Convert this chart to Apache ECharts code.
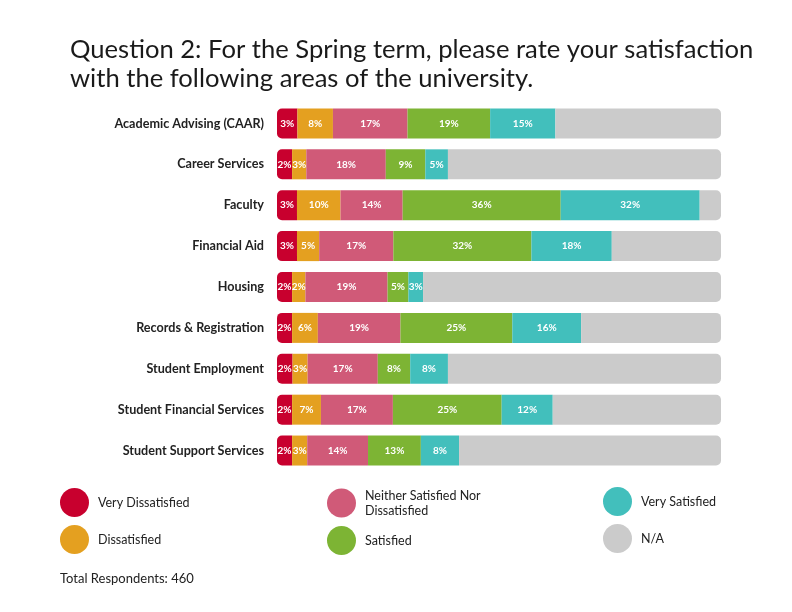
<!DOCTYPE html>
<html>
<head>
<meta charset="utf-8">
<script src="https://cdn.jsdelivr.net/npm/echarts@6/dist/echarts.min.js"></script>
<style>html,body{margin:0;padding:0;background:#fff}#c{width:792px;height:612px}</style>
</head>
<body>
<div id="c"></div>
<script>
const categories = ["Academic Advising (CAAR)","Career Services","Faculty","Financial Aid","Housing","Records & Registration","Student Employment","Student Financial Services","Student Support Services"];
// segment lengths as drawn (share of the bar, %)
const veryDissatisfied = [4.6,3.4,4.5,4.5,3.4,3.4,3.5,3.4,3.4];
const dissatisfied     = [8.0,3.2,9.8,5.0,3.0,5.8,3.4,6.5,3.4];
const neither          = [16.8,17.9,14.0,16.7,18.5,18.6,15.8,16.2,13.7];
const satisfied        = [18.6,8.9,35.6,31.1,4.7,25.2,7.3,24.5,11.9];
const verySatisfied    = [14.7,5.1,31.3,18.1,3.3,15.5,8.5,11.5,8.6];
const notApplicable    = [37.3,61.5,4.8,24.6,67.1,31.5,61.5,37.9,59.0];
// printed percentages
const labelVeryDissatisfied = [3,2,3,3,2,2,2,2,2];
const labelDissatisfied     = [8,3,10,5,2,6,3,7,3];
const labelNeither          = [17,18,14,17,19,19,17,17,14];
const labelSatisfied        = [19,9,36,32,5,25,8,25,13];
const labelVerySatisfied    = [15,5,32,18,3,16,8,12,8];
const seriesNames = ["Very Dissatisfied","Dissatisfied","Neither Satisfied Nor Dissatisfied","Satisfied","Very Satisfied","N/A"];
const colors = ["#c8002e","#e4a020","#d05a78","#7db434","#42bfbc","#cbcbcb"];
const titleText = "Question 2: For the Spring term, please rate your satisfaction\nwith the following areas of the university.";
const footText = "Total Respondents: 460";

const font = "Lato";
const allData = [veryDissatisfied, dissatisfied, neither, satisfied, verySatisfied, notApplicable];
const allLabels = [labelVeryDissatisfied, labelDissatisfied, labelNeither, labelSatisfied, labelVerySatisfied, null];
const r = 5;
const series = allData.map((d, i) => ({
  name: seriesNames[i],
  type: 'bar',
  stack: 'all',
  barWidth: 30,
  data: d,
  itemStyle: {
    color: colors[i],
    borderRadius: i === 0 ? [r,0,0,r] : (i === 5 ? [0,r,r,0] : 0)
  },
  label: {
    show: i < 5,
    position: 'inside',
    formatter: p => allLabels[i] ? allLabels[i][p.dataIndex] + '%' : '',
    color: '#fff',
    fontFamily: font,
    fontSize: 10,
    fontWeight: 'bold'
  },
  emphasis: { disabled: true }
}));

const chart = echarts.init(document.getElementById('c'), null, { renderer: 'canvas' });
const legendBase = {
  orient: 'vertical',
  icon: 'circle',
  itemWidth: 29,
  itemHeight: 29,
  itemGap: 8,
  padding: 0,
  selectedMode: false,
  textStyle: { fontFamily: font, fontSize: 12.5, color: '#222', padding: [0,0,0,4], lineHeight: 15 },
  formatter: n => n === 'Neither Satisfied Nor Dissatisfied' ? 'Neither Satisfied Nor\nDissatisfied' : n
};
chart.setOption({
  backgroundColor: '#fff',
  animation: false,
  title: {
    text: titleText,
    left: 65,
    top: 30,
    textStyle: { fontFamily: font, fontSize: 25.6, fontWeight: 'normal', color: '#1a1a1a', lineHeight: 29 }
  },
  graphic: [{
    type: 'text', left: 60, top: 572,
    style: { text: footText, fontFamily: font, fontSize: 13, fill: '#222' }
  }],
  legend: [
    Object.assign({}, legendBase, { left: 60, top: 488, data: [seriesNames[0], seriesNames[1]] }),
    Object.assign({}, legendBase, { left: 327, top: 488, data: [seriesNames[2], seriesNames[3]] }),
    Object.assign({}, legendBase, { left: 603, top: 487, data: [seriesNames[4], seriesNames[5]] })
  ],
  grid: { left: 277, right: 71, top: 103, height: 368, containLabel: false },
  xAxis: { type: 'value', min: 0, max: 100, show: false },
  yAxis: {
    type: 'category',
    data: categories,
    inverse: true,
    axisLine: { show: false },
    axisTick: { show: false },
    axisLabel: { margin: 13, fontFamily: font, fontSize: 12.6, fontWeight: 'bold', color: '#222' }
  },
  series: series
});
</script>
</body>
</html>
